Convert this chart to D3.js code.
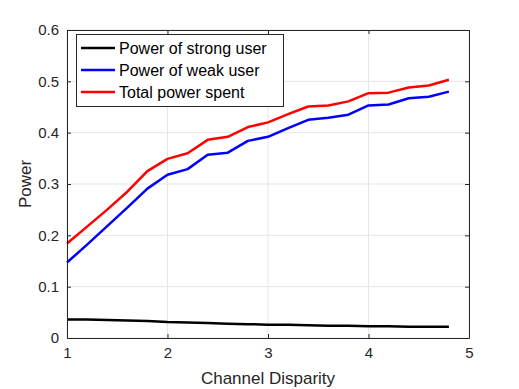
<!DOCTYPE html>
<html>
<head>
<meta charset="utf-8">
<script src="https://cdn.jsdelivr.net/npm/d3@7"></script>
<style>
  body { margin: 0; background: #fff; }
  text { font-family: "Liberation Sans", Arial, sans-serif; }
</style>
</head>
<body>
<svg id="chart" width="519" height="389"></svg>
<script>
// channel disparity values
const disparity = [1, 1.2, 1.4, 1.6, 1.8, 2, 2.2, 2.4, 2.6, 2.8, 3, 3.2, 3.4, 3.6, 3.8, 4, 4.2, 4.4, 4.6, 4.8];
const strongPower = [0.036, 0.036, 0.035, 0.034, 0.033, 0.031, 0.030, 0.029, 0.028, 0.027, 0.026, 0.026, 0.025, 0.024, 0.024, 0.023, 0.023, 0.022, 0.022, 0.022];
const weakPower = [0.147, 0.182, 0.218, 0.254, 0.291, 0.318, 0.329, 0.357, 0.361, 0.384, 0.392, 0.409, 0.425, 0.429, 0.435, 0.453, 0.455, 0.467, 0.470, 0.480];
const totalPower = [0.184, 0.217, 0.250, 0.285, 0.325, 0.349, 0.360, 0.386, 0.392, 0.411, 0.420, 0.436, 0.451, 0.453, 0.461, 0.477, 0.478, 0.488, 0.492, 0.503];
const xTicks = [1, 2, 3, 4, 5];
const yTicks = [0, 0.1, 0.2, 0.3, 0.4, 0.5, 0.6];
const seriesNames = ["Power of strong user", "Power of weak user", "Total power spent"];
const seriesColors = ["#000000", "#0000ff", "#ff0000"];

const svg = d3.select("#chart");
const pL = 67, pR = 469, pT = 30, pB = 338;

const x = d3.scaleLinear().domain([1, 5]).range([pL, pR]);
const y = d3.scaleLinear().domain([0, 0.6]).range([pB, pT]);

// grid
svg.append("g").selectAll("line").data(xTicks).join("line")
  .attr("x1", d => x(d)).attr("x2", d => x(d)).attr("y1", pT).attr("y2", pB)
  .attr("stroke", "#e6e6e6").attr("stroke-width", 1);
svg.append("g").selectAll("line").data(yTicks).join("line")
  .attr("x1", pL).attr("x2", pR).attr("y1", d => y(d)).attr("y2", d => y(d))
  .attr("stroke", "#e6e6e6").attr("stroke-width", 1);

// lines
const line = d3.line().x((d, i) => x(disparity[i])).y(d => y(d));
[strongPower, weakPower, totalPower].forEach((s, k) => {
  svg.append("path").datum(s).attr("d", line)
    .attr("fill", "none").attr("stroke", seriesColors[k]).attr("stroke-width", 2.5)
    .attr("stroke-linejoin", "round");
});

// axes box with inward ticks
const axStyle = g => {
  g.select(".domain").attr("stroke", "#262626");
  g.selectAll(".tick line").attr("stroke", "#262626");
  g.selectAll(".tick text").attr("fill", "#262626").style("font-size", "15px")
    .style("font-family", "Liberation Sans, Arial, sans-serif");
};
svg.append("g").attr("transform", `translate(0,${pB})`)
  .call(d3.axisBottom(x).tickValues(xTicks).tickFormat(d3.format("d")).tickSize(-4).tickSizeOuter(0).tickPadding(9))
  .call(axStyle);
svg.append("g").attr("transform", `translate(0,${pT})`)
  .call(d3.axisTop(x).tickValues(xTicks).tickFormat("").tickSize(-4).tickSizeOuter(0))
  .call(axStyle);
svg.append("g").attr("transform", `translate(${pL},0)`)
  .call(d3.axisLeft(y).tickValues(yTicks).tickFormat(d => d === 0 ? "0" : d3.format(".1f")(d)).tickSize(-4).tickSizeOuter(0).tickPadding(8))
  .call(axStyle);
svg.append("g").attr("transform", `translate(${pR},0)`)
  .call(d3.axisRight(y).tickValues(yTicks).tickFormat("").tickSize(-4).tickSizeOuter(0))
  .call(axStyle);

// axis labels
svg.append("text").attr("x", (pL + pR) / 2).attr("y", 384).attr("text-anchor", "middle")
  .attr("fill", "#262626").style("font-size", "17px").text("Channel Disparity");
svg.append("text").attr("transform", `translate(31,${(pT + pB) / 2}) rotate(-90)`)
  .attr("text-anchor", "middle").attr("fill", "#262626").style("font-size", "17px").text("Power");

// legend
const lg = svg.append("g");
lg.append("rect").attr("x", 76.5).attr("y", 34.5).attr("width", 207).attr("height", 72)
  .attr("fill", "#fff").attr("stroke", "#262626").attr("stroke-width", 1);
seriesNames.forEach((name, k) => {
  const yy = 48 + k * 22;
  lg.append("line").attr("x1", 81).attr("x2", 115).attr("y1", yy).attr("y2", yy)
    .attr("stroke", seriesColors[k]).attr("stroke-width", 2.5);
  lg.append("text").attr("x", 119).attr("y", yy + 5.5).attr("fill", "#000")
    .style("font-size", "16px").text(name);
});
</script>
</body>
</html>
